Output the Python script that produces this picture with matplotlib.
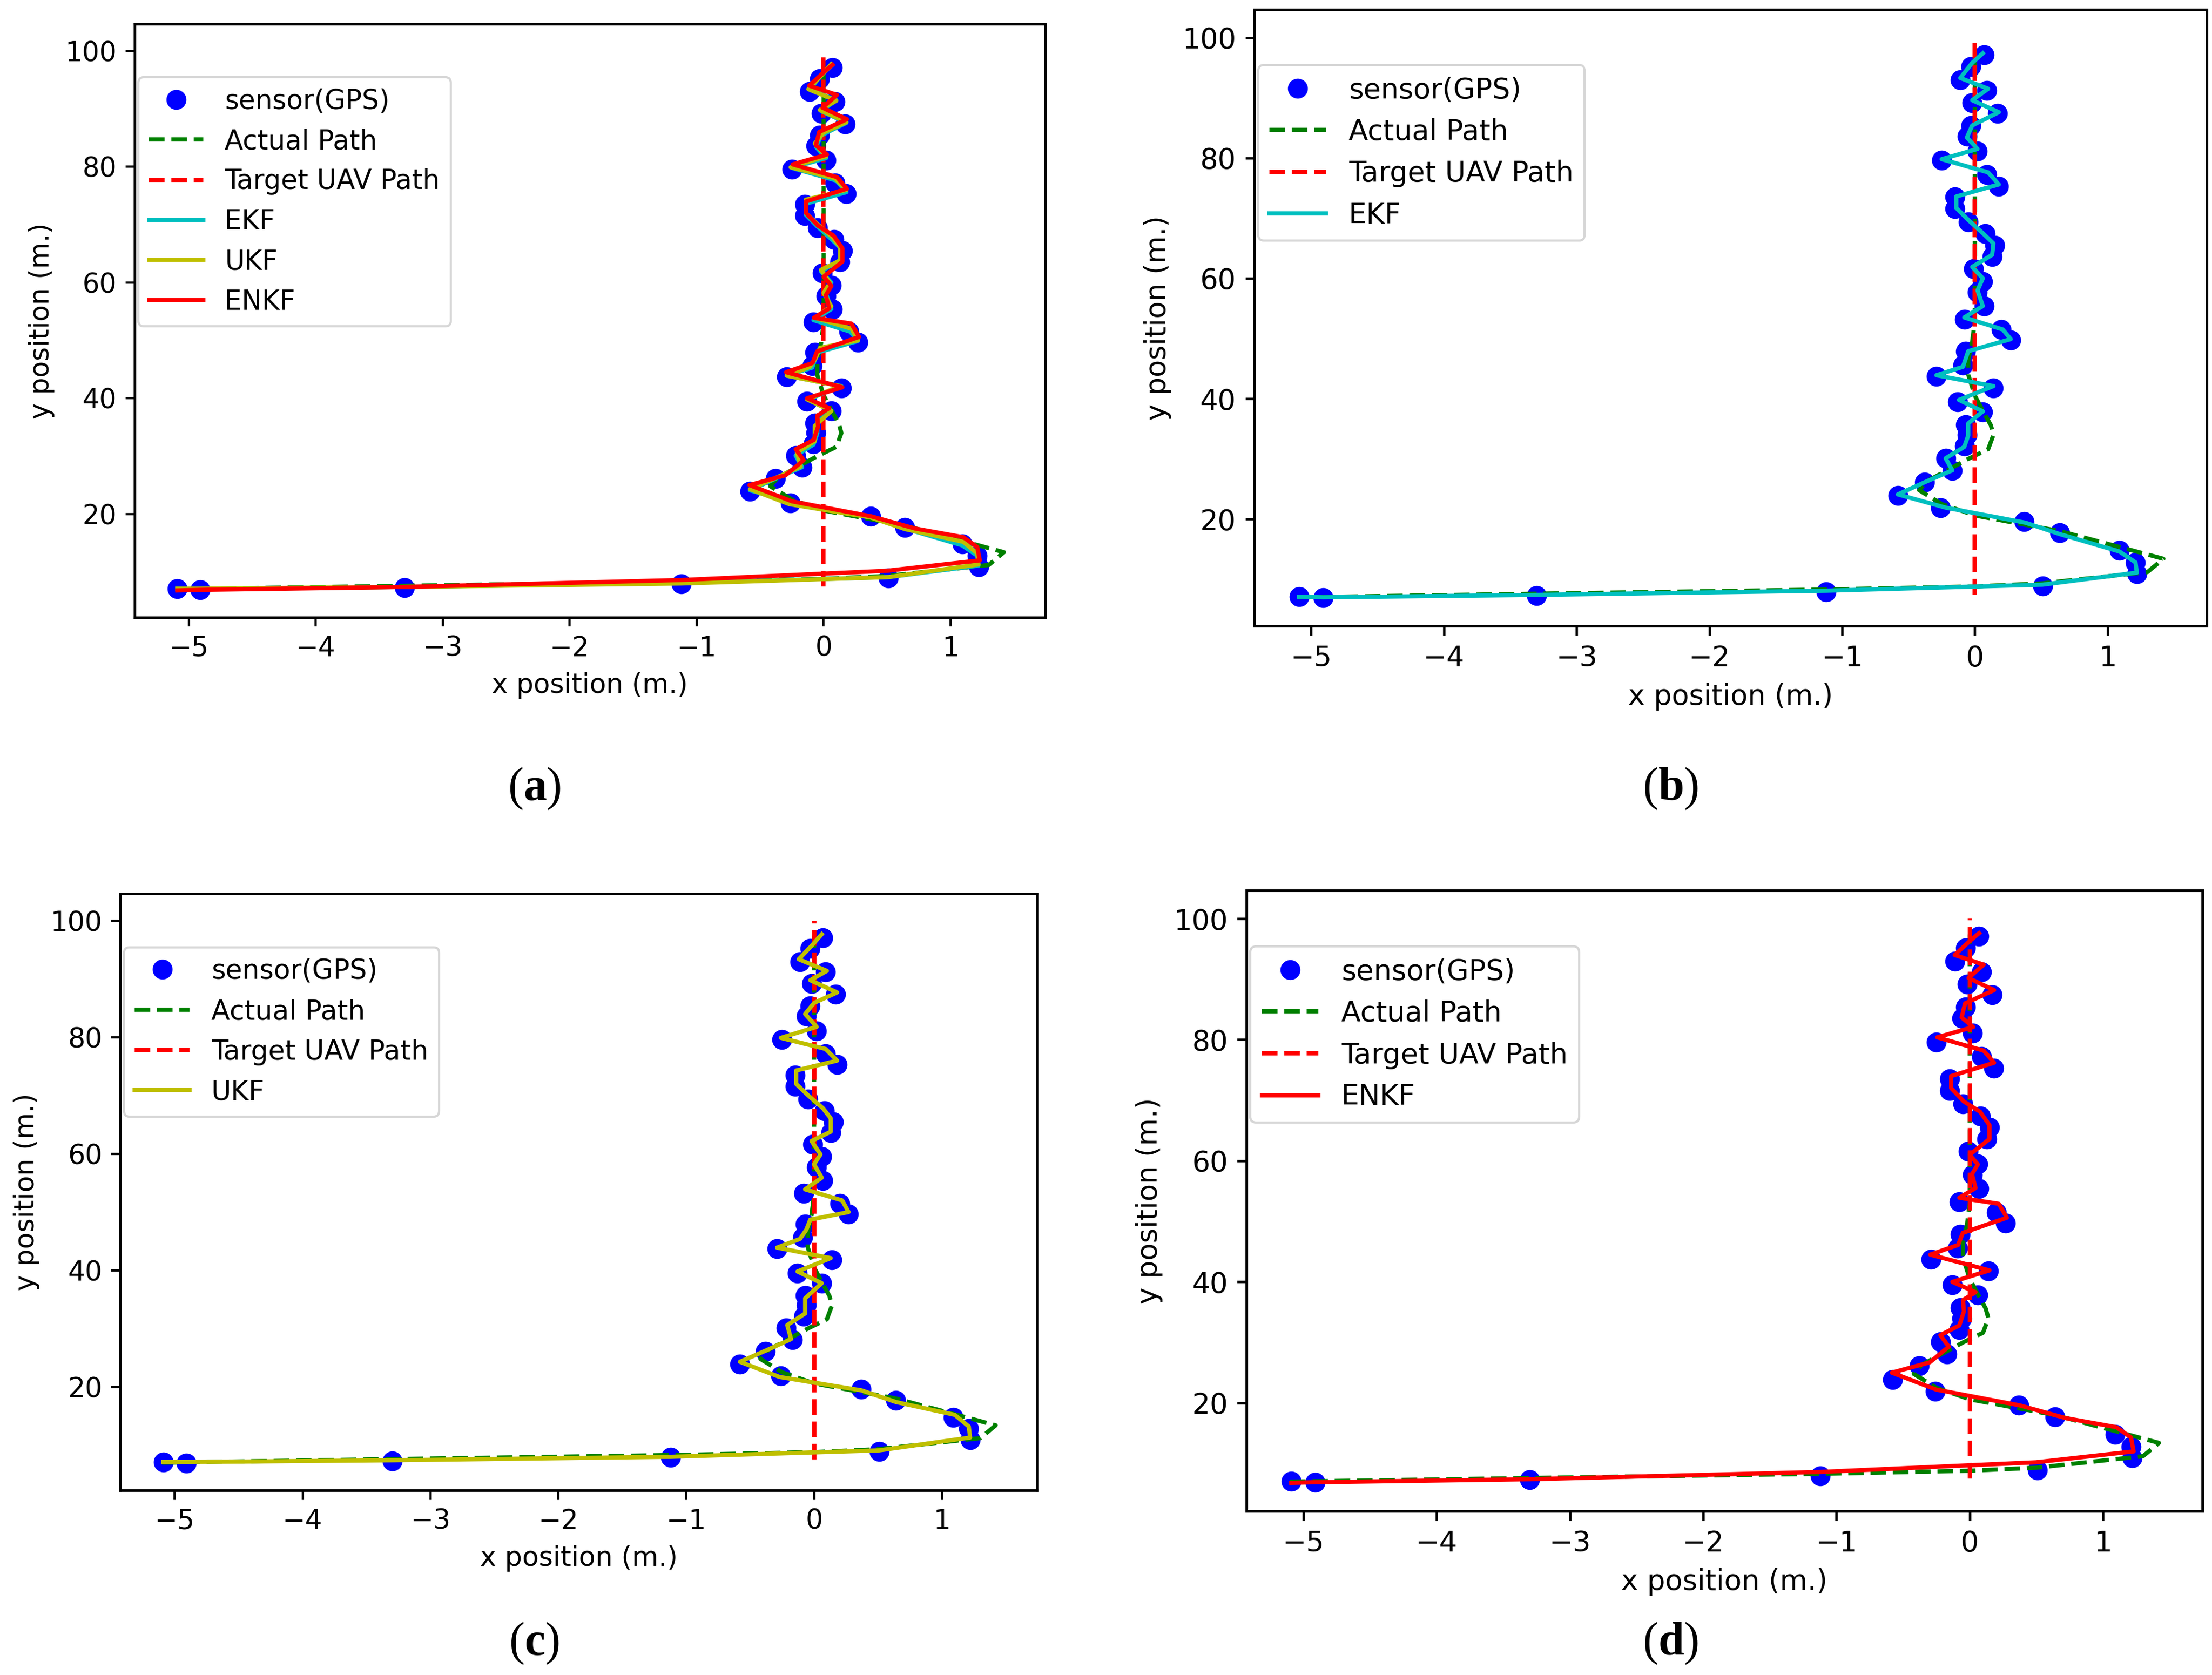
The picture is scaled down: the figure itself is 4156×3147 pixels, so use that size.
import matplotlib
matplotlib.use("Agg")
import matplotlib.pyplot as plt

plt.rcParams["mathtext.fontset"] = "custom"
plt.rcParams["mathtext.rm"] = "Liberation Serif"
plt.rcParams["mathtext.bf"] = "Liberation Serif:bold"

# ---------------- data ----------------
gps_x = [-5.09, -4.91, -3.30, -1.12, 0.51, 1.22, 1.21, 1.09, 0.64, 0.37,
         -0.26, -0.58, -0.38, -0.17, -0.22, -0.08, -0.06, -0.07, 0.06, -0.13,
         0.14, -0.29, -0.09, -0.07, 0.27, 0.20, -0.08, 0.07, 0.02, 0.06,
         -0.01, 0.13, 0.15, 0.08, -0.05, -0.15, -0.15, 0.18, 0.09, -0.25,
         0.02, -0.06, -0.03, 0.17, -0.02, 0.09, -0.11, -0.03, 0.07]
gps_y = [7.1, 6.9, 7.3, 7.9, 8.9, 10.9, 12.8, 14.8, 17.7, 19.6,
         21.9, 23.9, 26.1, 28.1, 30.1, 32.1, 34.0, 35.7, 37.8, 39.5,
         41.8, 43.7, 45.6, 47.9, 49.7, 51.5, 53.2, 55.4, 57.7, 59.5,
         61.6, 63.6, 65.5, 67.4, 69.4, 71.6, 73.5, 75.3, 77.2, 79.6,
         81.1, 83.6, 85.4, 87.4, 89.2, 91.2, 93.0, 95.2, 97.1]

actual_x = [-5.10, -3.30, -1.10, 0.00, 0.50, 1.30, 1.42, 1.10, 0.64, 0.00,
            -0.25, -0.42, -0.36, -0.20, -0.05, 0.10, 0.14, 0.12, 0.06, 0.00,
            -0.05, -0.05, -0.02, 0.00, 0.00]
actual_y = [7.0, 7.6, 8.3, 8.8, 9.3, 11.2, 13.4, 15.3, 18.0, 20.6,
            22.5, 24.8, 26.3, 28.2, 30.0, 31.6, 34.0, 35.6, 38.0, 40.5,
            44.0, 46.5, 49.5, 53.0, 97.4]

target_x = [0.0, 0.0]
target_y = [7.5, 100.0]

ekf_x = [-5.09, -4.91, -3.30, -1.12, 0.51, 1.22, 1.21, 1.09, 0.64, 0.38,
         -0.22, -0.58, -0.37, -0.17, -0.22, -0.08, -0.05, -0.05, 0.06, -0.12,
         0.14, -0.29, -0.09, -0.05, 0.27, 0.21, -0.08, 0.06, 0.02, 0.06,
         -0.02, 0.13, 0.14, 0.06, -0.05, -0.14, -0.14, 0.18, 0.10, -0.25,
         0.02, -0.06, -0.02, 0.18, -0.02, 0.10, -0.11, -0.02, 0.06]
ekf_y = [7.1, 7.0, 7.4, 8.1, 9.1, 11.1, 12.8, 14.6, 17.5, 19.4,
         21.9, 24.1, 26.2, 28.1, 30.1, 32.0, 33.9, 35.9, 37.9, 39.8,
         42.1, 43.9, 45.3, 47.9, 49.9, 51.5, 53.5, 55.4, 58.0, 60.0,
         61.9, 63.9, 65.8, 67.5, 69.7, 71.7, 73.6, 75.6, 77.6, 79.8,
         81.5, 83.4, 85.4, 87.6, 89.6, 91.5, 93.3, 95.8, 97.4]

ukf_x = [-5.09, -4.91, -3.30, -1.12, 0.51, 1.22, 1.21, 1.10, 0.64, 0.37,
         -0.27, -0.58, -0.37, -0.18, -0.21, -0.07, -0.07, 0.06, -0.13, 0.13,
         -0.29, -0.11, -0.06, -0.03, 0.27, 0.22, -0.07, 0.06, 0.00, 0.05,
         -0.02, 0.13, 0.13, 0.07, -0.05, -0.14, -0.14, 0.18, 0.09, -0.26,
         0.02, -0.07, 0.00, 0.18, -0.03, 0.10, -0.12, -0.02, 0.06]
ukf_y = [7.1, 7.1, 7.4, 8.0, 9.1, 11.3, 13.2, 15.2, 17.4, 19.4,
         21.7, 24.3, 26.3, 28.2, 30.6, 32.6, 35.2, 37.8, 39.8, 42.1,
         43.9, 45.4, 47.0, 48.7, 50.0, 52.0, 53.9, 55.9, 58.2, 59.9,
         62.2, 63.8, 66.1, 67.8, 70.1, 72.0, 74.3, 76.0, 78.0, 79.9,
         81.8, 84.0, 85.9, 87.7, 89.8, 91.4, 93.4, 95.7, 97.7]

enkf_x = [-5.09, -4.91, -3.30, -1.12, 0.50, 1.23, 1.21, 1.10, 0.72, 0.375,
          -0.25, -0.584, -0.30, -0.157, -0.22, -0.078, -0.044, -0.05, 0.044, -0.13,
          0.148, -0.296, -0.087, -0.052, 0.279, 0.218, -0.078, 0.044, 0.017, 0.061,
          0.0, 0.148, 0.148, 0.078, -0.044, -0.139, -0.139, 0.183, 0.105, -0.244,
          0.026, -0.061, -0.035, 0.183, -0.009, 0.105, -0.113, 0.0, 0.07]
enkf_y = [6.8, 6.9, 7.4, 8.6, 10.2, 12.0, 14.3, 16.0, 17.5, 19.6,
          22.2, 25.0, 26.7, 29.3, 31.2, 32.8, 35.1, 37.0, 38.3, 40.0,
          41.9, 44.5, 46.1, 48.1, 50.6, 52.9, 53.9, 55.5, 57.8, 59.4,
          61.0, 63.6, 65.9, 68.1, 69.8, 72.0, 74.0, 76.2, 78.2, 80.4,
          82.1, 83.7, 86.0, 88.2, 90.2, 92.4, 94.0, 96.3, 97.6]

filters = {
    "EKF": (ekf_x, ekf_y, "c"),
    "UKF": (ukf_x, ukf_y, "y"),
    "ENKF": (enkf_x, enkf_y, "r"),
}

# ---------------- layout ----------------
W, H = 4156, 3147
DPI = 300
fig = plt.figure(figsize=(W / DPI, H / DPI), dpi=DPI)

panels = [
    dict(box=(253, 45, 1964, 1160), s=1.15, show=["EKF", "UKF", "ENKF"], tag="a", tagpos=(1004, 1482)),
    dict(box=(2357, 18, 4146, 1176), s=1.20, show=["EKF"], tag="b", tagpos=(3139, 1482)),
    dict(box=(226, 1679, 1949, 2800), s=1.16, show=["UKF"], tag="c", tagpos=(1004, 3088)),
    dict(box=(2342, 1673, 4138, 2839), s=1.21, show=["ENKF"], tag="d", tagpos=(3139, 3088)),
]

for p in panels:
    l, t, r, b = p["box"]
    s = p["s"]
    ax = fig.add_axes([l / W, 1 - b / H, (r - l) / W, (b - t) / H])
    lw = 1.9
    ax.plot(gps_x, gps_y, "o", color="b", ms=8.0, lw=0, label="sensor(GPS)")
    ax.plot(actual_x, actual_y, "--", color="g", lw=lw, label="Actual Path")
    ax.plot(target_x, target_y, "--", color="r", lw=lw, label="Target UAV Path")
    for name in p["show"]:
        fx, fy, col = filters[name]
        ax.plot(fx, fy, "-", color=col, lw=lw, label=name)
    fs = 10.6 * s
    ax.set_xlabel("x position (m.)", fontsize=fs, labelpad=4 * s)
    ax.set_ylabel("y position (m.)", fontsize=fs, labelpad=4 * s)
    ax.tick_params(length=3.5 * s, width=0.9 * s, pad=3.5 * s, labelsize=fs)
    for sp in ax.spines.values():
        sp.set_linewidth(1.0 * s)
    ax.legend(loc="upper left", bbox_to_anchor=(0.004, 0.91), borderaxespad=0,
              fontsize=fs, numpoints=1)
    tx, ty = p["tagpos"]
    fig.text(tx / W, 1 - ty / H, r"($\mathbf{%s}$)" % p["tag"], ha="center", va="center",
             fontsize=21, family="Liberation Serif")

fig.savefig("out.png", dpi=DPI)
